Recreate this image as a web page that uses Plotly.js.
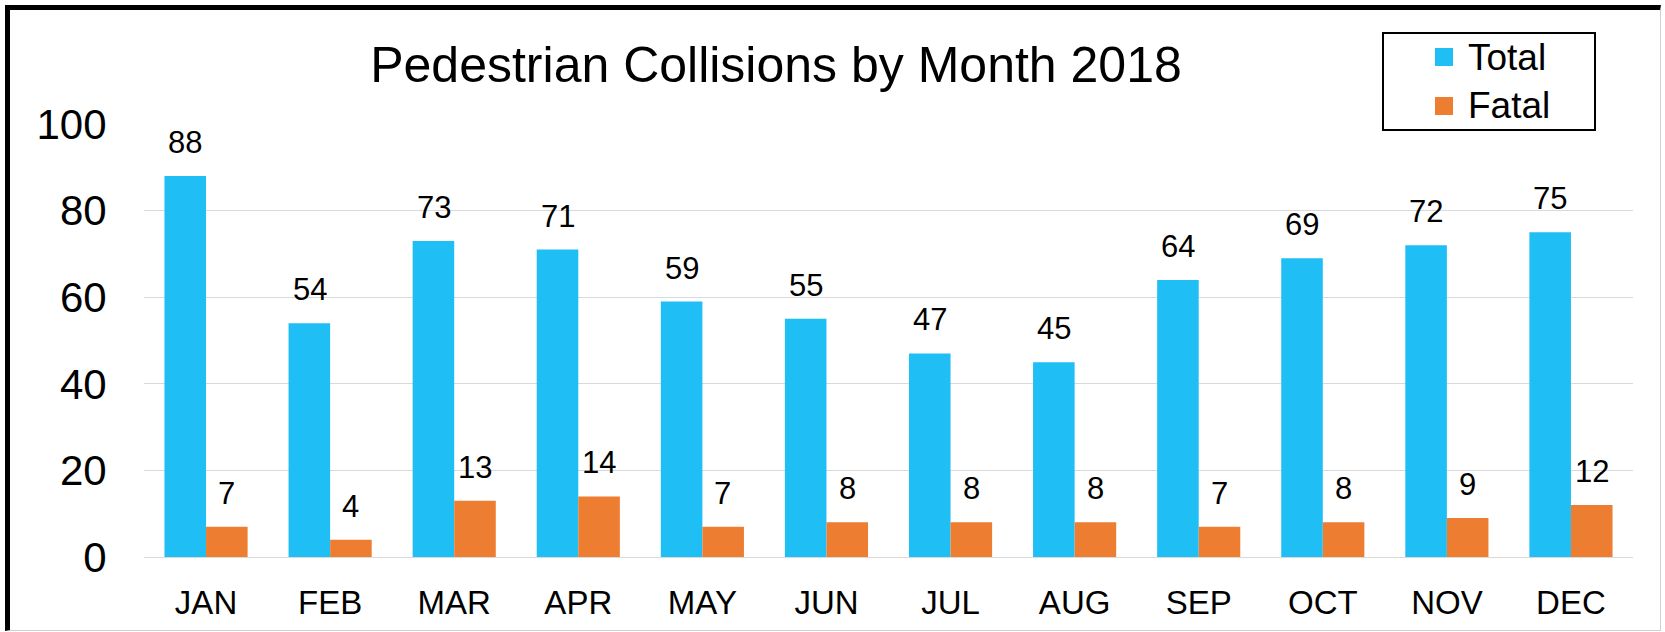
<!DOCTYPE html>
<html>
<head>
<meta charset="utf-8">
<script src="https://cdn.plot.ly/plotly-3.0.1.min.js"></script>
<style>
  html, body { margin: 0; padding: 0; background: #fff; }
  #wrap { position: relative; width: 1665px; height: 632px; }
  #chart { width: 1665px; height: 632px; }
  #frame { position: absolute; left: 5px; top: 5px; width: 1656px; height: 626px; box-sizing: border-box;
           border-top: 5px solid #000; border-left: 5px solid #000; border-right: 1px solid #d0d0d0; border-bottom: 1px solid #d0d0d0;
           pointer-events: none; }
</style>
</head>
<body>
<div id="wrap">
  <div id="chart"></div>
  <div id="frame"></div>
</div>
<script>
const months = ["JAN","FEB","MAR","APR","MAY","JUN","JUL","AUG","SEP","OCT","NOV","DEC"];
const totalValues = [88,54,73,71,59,55,47,45,64,69,72,75];
const fatalValues = [7,4,13,14,7,8,8,8,7,8,9,12];
const seriesNames = ["Total","Fatal"];
const yTicks = [0,20,40,60,80,100];
const chartTitle = "Pedestrian Collisions by Month 2018";

const blue = "#1FBEF5";
const orange = "#ED7D31";
const colors = [blue, orange];
const FONT = "Arial, 'Liberation Sans', sans-serif";

const traces = [
  {type: "bar", name: seriesNames[0], x: months, y: totalValues, marker: {color: colors[0]}, hoverinfo: "x+y+name", showlegend: false},
  {type: "bar", name: seriesNames[1], x: months, y: fatalValues, marker: {color: colors[1]}, hoverinfo: "x+y+name", showlegend: false}
];

const annotations = [];
const halfBar = 20.6;
months.forEach((m, i) => {
  annotations.push({x: m, y: totalValues[i], text: String(totalValues[i]), showarrow: false,
    xref: "x", yref: "y", xanchor: "center", yanchor: "bottom", xshift: -halfBar, yshift: 14,
    font: {family: FONT, size: 31, color: "#000"}});
  annotations.push({x: m, y: fatalValues[i], text: String(fatalValues[i]), showarrow: false,
    xref: "x", yref: "y", xanchor: "center", yanchor: "bottom", xshift: halfBar, yshift: 14,
    font: {family: FONT, size: 31, color: "#000"}});
});

// plot area: x 144..1633, y 124..557 (px)
const px = v => (v - 144) / 1489;
const py = v => (557 - v) / 433;

// legend (drawn by hand: frame, swatches, labels)
const shapes = [{type: "rect", xref: "paper", yref: "paper", x0: px(1383), x1: px(1595), y0: py(130), y1: py(33),
                 line: {color: "#000", width: 2}, fillcolor: "rgba(0,0,0,0)", layer: "above"}];
const legendRowCenters = [57, 106];
seriesNames.forEach((name, k) => {
  const c = legendRowCenters[k];
  shapes.push({type: "rect", xref: "paper", yref: "paper", x0: px(1435), x1: px(1453), y0: py(c + 9), y1: py(c - 9),
               line: {width: 0}, fillcolor: colors[k], layer: "above"});
  annotations.push({xref: "paper", yref: "paper", x: px(1466), y: py(c), xanchor: "left", yanchor: "middle",
                    text: name, showarrow: false, font: {family: FONT, size: 37, color: "#000"}});
});

const layout = {
  width: 1665, height: 632,
  margin: {l: 144, r: 32, t: 124, b: 75},
  paper_bgcolor: "#fff", plot_bgcolor: "#fff",
  font: {family: FONT, color: "#000"},
  title: {text: chartTitle, font: {family: FONT, size: 50, color: "#000"},
          x: 776/1665, xanchor: "center", y: 1 - 64/632, yanchor: "middle"},
  barmode: "group", bargap: 0.33, bargroupgap: 0,
  showlegend: false,
  shapes: shapes,
  xaxis: {type: "category", showgrid: false, showline: true, linecolor: "#D9D9D9", linewidth: 1,
          ticks: "outside", ticklen: 16, tickcolor: "rgba(0,0,0,0)",
          tickfont: {family: FONT, size: 33, color: "#000"}, zeroline: false, fixedrange: true},
  yaxis: {range: [0, 100], tickvals: yTicks, ticktext: yTicks.map(String), showgrid: true, gridcolor: "#D9D9D9", gridwidth: 1,
          zeroline: false, showline: false, ticks: "outside", ticklen: 28, tickcolor: "rgba(0,0,0,0)",
          tickfont: {family: FONT, size: 42, color: "#000"}, fixedrange: true},
  annotations: annotations
};

Plotly.newPlot("chart", traces, layout, {displayModeBar: false, staticPlot: true});
</script>
</body>
</html>
